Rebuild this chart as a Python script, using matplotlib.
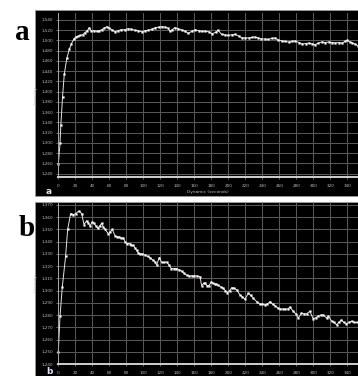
import matplotlib
matplotlib.use("Agg")
import matplotlib.pyplot as plt
from matplotlib.patches import Rectangle
from matplotlib.ticker import FuncFormatter

# ---------------- data ----------------
a_time = [0, 2, 3, 5, 7, 10, 13, 15.5, 18.5, 20.5, 23, 26, 28.5, 31, 34, 36.5, 39, 42, 45, 48,
          51, 54, 57, 60, 63, 66.5, 70, 74, 78, 82, 86, 90, 94, 98, 102, 106, 110, 114, 118, 122,
          126, 129, 131.5, 134, 137, 141, 145, 149, 153, 157, 161, 165, 169, 173, 177, 181, 185,
          188, 192, 196, 200, 204, 208, 212, 216, 220, 224, 228, 231, 235, 239, 243, 247, 251,
          255, 259, 263, 267, 271, 275, 279, 283, 287, 291, 295, 299, 302, 306, 310, 314, 318,
          322, 326, 330, 334, 337, 340, 343, 346, 349, 352]
a_intensity = [1258, 1299, 1335, 1390, 1434, 1465, 1483, 1494, 1503, 1507, 1508, 1510, 1511, 1515,
               1519, 1525, 1518, 1519, 1518, 1519, 1521, 1524, 1527, 1524, 1521, 1517, 1519, 1521,
               1521, 1523, 1522, 1520, 1519, 1517, 1519, 1520, 1522, 1525, 1526, 1527, 1526, 1524,
               1518, 1521, 1525, 1523, 1521, 1518, 1514, 1518, 1521, 1519, 1518, 1518, 1517, 1513,
               1516, 1520, 1512, 1511, 1510, 1511, 1512, 1509, 1505, 1505, 1505, 1506, 1507, 1505,
               1503, 1503, 1502, 1504, 1505, 1501, 1499, 1498, 1497, 1498, 1499, 1496, 1493, 1494,
               1495, 1493, 1492, 1495, 1497, 1496, 1497, 1496, 1495, 1496, 1495, 1498, 1500, 1497,
               1495, 1493, 1490]

b_time = [0, 2, 4.7, 8.6, 11, 14.5, 17.6, 20.4, 24.3, 27.5, 30.2, 33.3, 35.5, 37.3, 40, 42, 44,
          46.3, 49, 51, 53, 55, 58.8, 61, 63.5, 66.7, 69, 71.4, 74, 76.5, 78.5, 80.4, 84.3, 86,
          88.2, 90, 92, 94, 96, 99, 102, 105, 108, 111, 113.7, 115.7, 118.8, 121.6, 124.5, 127.5,
          130, 133, 136, 139, 142, 145, 148, 151, 154, 157, 160, 162.7, 166.7, 168.6, 171, 173,
          175, 177, 180, 182, 184, 186, 188, 191, 194, 196.5, 199, 201.5, 204, 207, 210, 213.7,
          216.5, 219.6, 223.5, 226.5, 229.4, 233.3, 237, 240, 243, 246, 249, 252, 255, 258,
          260.8, 264, 266.7, 270, 272.5, 276.5, 279.5, 282.4, 286, 289, 292, 296, 300, 303,
          305.9, 309, 311.8, 315.7, 317.6, 321.6, 324.5, 327.5, 330, 333, 336, 339, 342, 345,
          348, 351]
b_intensity = [1250, 1279, 1303, 1328, 1350, 1363, 1362, 1363, 1365, 1363, 1354, 1357, 1355, 1353,
               1356, 1355, 1353, 1351, 1353, 1355, 1352, 1350, 1346.5, 1348, 1350, 1345, 1344,
               1344, 1343, 1343, 1340, 1338.4, 1338.4, 1337, 1337, 1335, 1333, 1331, 1330, 1330,
               1329, 1328, 1327, 1325, 1323.5, 1321, 1327, 1323, 1323, 1323.5, 1321, 1318, 1318,
               1318, 1317, 1316, 1314, 1312.7, 1312, 1312, 1312, 1312, 1311.4, 1304, 1306, 1306,
               1304, 1304, 1307, 1306, 1305.4, 1305, 1304.6, 1303, 1302, 1300, 1298.4, 1300,
               1302.4, 1302, 1300.5, 1296.5, 1295, 1293, 1297.8, 1296, 1293.8, 1291, 1289, 1289,
               1288.4, 1289, 1291, 1289, 1287.6, 1286, 1285, 1285, 1284.9, 1285, 1286.5, 1283,
               1281, 1277.6, 1281.6, 1281, 1281, 1283, 1276.8, 1278, 1279, 1280, 1280, 1277.6,
               1279, 1275, 1274, 1272, 1274, 1276, 1274, 1273, 1274, 1275, 1274, 1274]

x_ticks = list(range(0, 341, 20))
a_yticks = list(range(1240, 1541, 20))
b_yticks = list(range(1240, 1371, 10))

# ---------------- figure ----------------
W, H = 358, 376
fig = plt.figure(figsize=(W / 100, H / 100), dpi=100)
fig.patch.set_facecolor("white")


def fx(px):
    return px / W


def fy(py):
    return 1 - py / H


# black panel backgrounds (behind the axes)
fig.patches.append(Rectangle((fx(35), fy(196)), fx(323), 186 / H, transform=fig.transFigure,
                             facecolor="black", edgecolor="#9a9a9a", linewidth=0.6, zorder=-10))
fig.patches.append(Rectangle((fx(35), fy(376)), fx(323), 174 / H, transform=fig.transFigure,
                             facecolor="black", edgecolor="#9a9a9a", linewidth=0.6, zorder=-10))

comma_fmt = FuncFormatter(lambda v, p: f"{int(round(v)):,}")


def style(ax, yticks, ylim, xlabel):
    ax.set_zorder(1)
    ax.set_facecolor("black")
    ax.set_xlim(0, (358 - 58.3) / 0.85)
    ax.set_ylim(*ylim)
    ax.set_xticks(x_ticks)
    ax.set_yticks(yticks)
    ax.yaxis.set_major_formatter(comma_fmt)
    ax.grid(True, color="#575757", linewidth=0.75)
    ax.set_axisbelow(True)
    for s in ("top", "right"):
        ax.spines[s].set_visible(False)
    ax.spines["left"].set_color("#a8a8a8")
    ax.spines["left"].set_linewidth(0.7)
    ax.spines["bottom"].set_color("#d0d0d0")
    ax.spines["bottom"].set_linewidth(1.4)
    ax.tick_params(axis="both", colors="#bcbcbc", labelsize=3, length=1.2, width=0.4)
    ax.tick_params(axis="y", pad=2.5)
    ax.tick_params(axis="x", pad=3.5)
    ax.set_ylabel("Intensity", color="#bcbcbc", fontsize=3, labelpad=3)
    if xlabel:
        ax.set_xlabel("Dynamic (seconds)", color="#bcbcbc", fontsize=3.2, labelpad=1.5)


ax_a = fig.add_axes([fx(58.3), fy(177), fx(358 - 58.3), 164 / H])
style(ax_a, a_yticks, (1233.6, 1553.6), True)
ax_a.plot(a_time, a_intensity, color="#eedfe2", linewidth=0.7, marker="s", markersize=1.3,
          markerfacecolor="white", markeredgecolor="white", markeredgewidth=0.2, clip_on=False)

ax_b = fig.add_axes([fx(58.3), fy(364), fx(358 - 58.3), 161 / H])
style(ax_b, b_yticks, (1240, 1371.6), False)
ax_b.plot(b_time, b_intensity, color="#eedfe2", linewidth=0.7, marker="s", markersize=1.3,
          markerfacecolor="white", markeredgecolor="white", markeredgewidth=0.2, clip_on=False)

# small panel letters inside black panels
fig.text(fx(49), fy(191.5), "a", color="#d8e4f4", fontsize=6.5, fontweight="bold",
         ha="center", va="center", family="DejaVu Sans", zorder=5)
fig.text(fx(49), fy(371.5), "b", color="#d8e4f4", fontsize=6.5, fontweight="bold",
         ha="center", va="center", family="DejaVu Sans", zorder=5)

# big panel letters
fig.text(fx(22), fy(33), "a", color="black", fontsize=21, fontweight="bold",
         ha="center", va="center", family="Liberation Serif")
fig.text(fx(27), fy(229), "b", color="black", fontsize=21, fontweight="bold",
         ha="center", va="center", family="Liberation Serif")

fig.savefig("out.png", dpi=100, facecolor="white")
